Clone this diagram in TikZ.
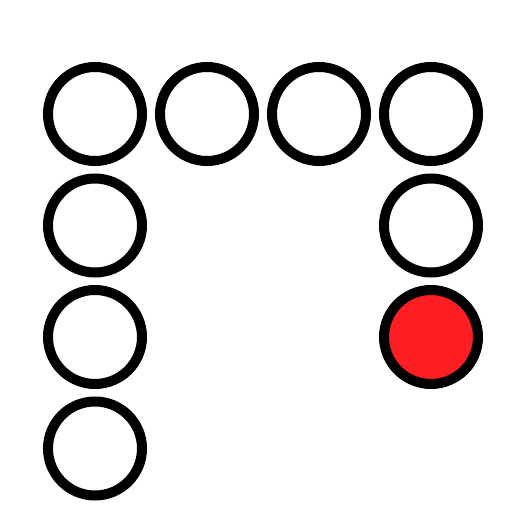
\documentclass[tikz,border=0pt]{standalone}
\usepackage{xcolor}
\usepackage{tikz}
\usetikzlibrary{positioning}
\definecolor{dotred}{RGB}{252, 30, 35}
\tikzstyle{ring} = [circle, draw=black, line width=0.2cm, minimum size=1.88cm, fill=white]
\tikzstyle{hit} = [ring, fill=dotred]

\begin{document}
\begin{tikzpicture}[node distance=2.23cm and 2.24cm, on grid]
    \useasboundingbox (0,0) rectangle (10.24,10.24);
    % top row
    \node (t1) [ring] at (1.9,7.96) {};
    \node (t2) [ring, right=of t1] {};
    \node (t3) [ring, right=of t2] {};
    \node (t4) [ring, right=of t3] {};
    % left column
    \node (l2) [ring, below=of t1] {};
    \node (l3) [ring, below=of l2] {};
    \node (l4) [ring, below=of l3] {};
    % right column
    \node (r2) [ring, below=of t4] {};
    \node (r3) [hit, below=of r2] {};
\end{tikzpicture}
\end{document}
